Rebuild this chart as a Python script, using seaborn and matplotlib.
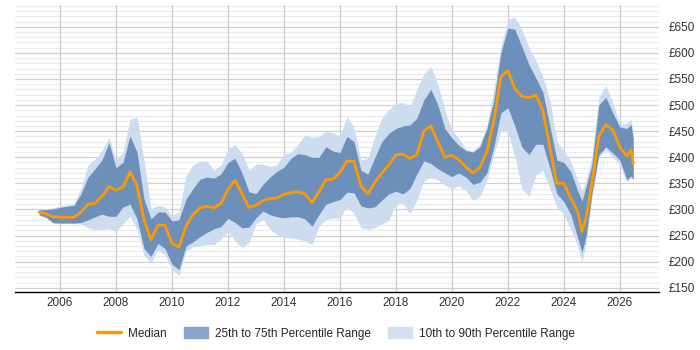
import numpy as np
import pandas as pd
import seaborn as sns
import matplotlib
matplotlib.use('Agg')
from matplotlib import pyplot as plt
from matplotlib.patches import Patch
from matplotlib.lines import Line2D

# decimal years
years = [2005.25, 2005.5, 2005.75, 2006.0, 2006.25, 2006.5, 2006.75, 2007.0, 2007.25, 2007.5,
         2007.75, 2008.0, 2008.25, 2008.5, 2008.75, 2009.0, 2009.25, 2009.5, 2009.75, 2010.0,
         2010.25, 2010.5, 2010.75, 2011.0, 2011.25, 2011.5, 2011.75, 2012.0, 2012.25, 2012.5,
         2012.75, 2013.0, 2013.25, 2013.5, 2013.75, 2014.0, 2014.25, 2014.5, 2014.75, 2015.0,
         2015.25, 2015.5, 2015.75, 2016.0, 2016.25, 2016.5, 2016.75, 2017.0, 2017.25, 2017.5,
         2017.75, 2018.0, 2018.25, 2018.5, 2018.75, 2019.0, 2019.25, 2019.5, 2019.75, 2020.0,
         2020.25, 2020.5, 2020.75, 2021.0, 2021.25, 2021.5, 2021.75, 2022.0, 2022.25, 2022.5,
         2022.75, 2023.0, 2023.25, 2023.5, 2023.75, 2024.0, 2024.25, 2024.5, 2024.65, 2024.8,
         2025.0, 2025.25, 2025.5, 2025.75, 2026.0, 2026.25, 2026.4, 2026.48]

median = [295, 292, 286, 285, 285, 285, 295, 310, 312, 325,
          344, 337, 343, 372, 345, 280, 242, 270, 270, 235,
          228, 268, 290, 303, 306, 303, 312, 338, 356, 330,
          304, 308, 317, 321, 322, 329, 332, 334, 330, 313,
          333, 357, 358, 371, 393, 392, 345, 330, 352, 370,
          385, 405, 406, 398, 405, 450, 460, 430, 400, 404,
          395, 381, 370, 380, 410, 470, 554, 566, 532, 517,
          514, 519, 490, 420, 350, 350, 322, 295, 258, 285,
          350, 440, 463, 452, 420, 402, 414, 388]

p25 = [290, 285, 275, 274, 274, 274, 275, 280, 286, 291,
       287, 287, 305, 310, 282, 225, 210, 235, 225, 195,
       185, 230, 238, 248, 256, 263, 267, 283, 275, 265,
       266, 284, 297, 290, 286, 284, 286, 286, 282, 268,
       290, 310, 315, 319, 333, 332, 307, 303, 305, 318,
       330, 335, 330, 340, 368, 393, 388, 378, 370, 363,
       370, 362, 348, 352, 370, 420, 485, 495, 460, 420,
       405, 425, 425, 380, 330, 315, 290, 245, 218, 250,
       330, 405, 420, 408, 395, 357, 364, 358]

p75 = [299, 300, 301, 304, 306, 308, 330, 362, 378, 395,
       428, 380, 390, 441, 410, 320, 282, 295, 295, 278,
       280, 320, 340, 358, 362, 360, 368, 390, 398, 370,
       334, 330, 348, 362, 373, 381, 398, 407, 405, 400,
       400, 420, 412, 409, 440, 430, 375, 368, 400, 430,
       446, 455, 460, 462, 475, 510, 530, 500, 455, 437,
       423, 413, 410, 420, 455, 510, 600, 648, 645, 612,
       578, 552, 525, 460, 395, 390, 372, 335, 316, 345,
       385, 500, 515, 485, 458, 455, 463, 435]

p10 = [289, 284, 273, 273, 273, 273, 272, 265, 261, 262,
       263, 258, 273, 287, 262, 212, 198, 222, 213, 185,
       173, 220, 229, 231, 233, 233, 243, 258, 240, 227,
       236, 272, 281, 262, 252, 246, 246, 243, 240, 233,
       268, 281, 283, 284, 305, 292, 265, 262, 265, 272,
       280, 310, 312, 292, 318, 355, 362, 357, 347, 340,
       345, 336, 318, 325, 355, 405, 450, 450, 400, 340,
       325, 365, 375, 340, 305, 290, 262, 230, 198, 238,
       320, 400, 414, 400, 385, 353, 361, 358]

p90 = [300, 301, 303, 307, 309, 311, 340, 385, 397, 412,
       438, 395, 410, 473, 477, 395, 302, 308, 305, 288,
       295, 365, 385, 393, 393, 375, 385, 415, 425, 408,
       375, 387, 387, 382, 386, 406, 409, 425, 443, 438,
       440, 450, 447, 441, 478, 458, 395, 398, 440, 475,
       492, 503, 505, 497, 530, 560, 574, 540, 490, 452,
       436, 415, 412, 425, 460, 530, 612, 665, 668, 645,
       610, 585, 555, 510, 430, 413, 392, 355, 336, 358,
       400, 515, 538, 505, 462, 465, 473, 447]

df = pd.DataFrame({'year': years, 'median': median, 'p25': p25, 'p75': p75,
                   'p10': p10, 'p90': p90})

sns.set_style('white')
plt.rcParams['font.family'] = ['Liberation Sans', 'DejaVu Sans']

light = '#cddcee'
dark = '#6c90ba'
orange = '#ff9900'

fig = plt.figure(figsize=(7, 3.5), dpi=100)
ax = fig.add_axes([0.021, 0.166, 0.92, 0.82])

# grid: minor every 10, major every 50
for v in range(150, 700, 10):
    ax.axhline(v, color='#d0d0d0' if v % 50 == 0 else '#ebebeb', lw=0.9, zorder=0)
for yr in range(2006, 2027, 2):
    ax.axvline(yr, color='#cccccc', lw=0.9, zorder=0)

ax.fill_between(df['year'], df['p10'], df['p90'], color=light, lw=0, zorder=1)
ax.fill_between(df['year'], df['p25'], df['p75'], color=dark, lw=0, zorder=2)
sns.lineplot(data=df, x='year', y='median', color=orange, lw=2, ax=ax, zorder=3)

ax.set_xlim(2004.38, 2027.39)
ax.set_ylim(142, 692)
ax.set_xticks(range(2006, 2027, 2))
ax.set_yticks(range(150, 651, 50))
ax.set_yticklabels(['£%d' % v for v in range(150, 651, 50)])
ax.yaxis.tick_right()
ax.tick_params(axis='both', length=0, labelsize=8.5, colors='#333333')
ax.tick_params(axis='y', pad=7)
ax.tick_params(axis='x', pad=4)
ax.set_xlabel('')
ax.set_ylabel('')
for s in ['top', 'left', 'right']:
    ax.spines[s].set_visible(False)
ax.spines['bottom'].set_color('#000000')
ax.spines['bottom'].set_linewidth(1)

handles = [Line2D([0], [0], color=orange, lw=2.5),
           Patch(color='#87a5c8'),
           Patch(color='#d2e0ef')]
labels = ['Median', '25th to 75th Percentile Range', '10th to 90th Percentile Range']
fig.legend(handles, labels, loc='center', bbox_to_anchor=(0.48, 0.048), ncol=3,
           frameon=False, fontsize=8.5, handlelength=2.0, handleheight=1.1,
           columnspacing=1.5, handletextpad=0.6)

fig.savefig('out.png', dpi=100)
